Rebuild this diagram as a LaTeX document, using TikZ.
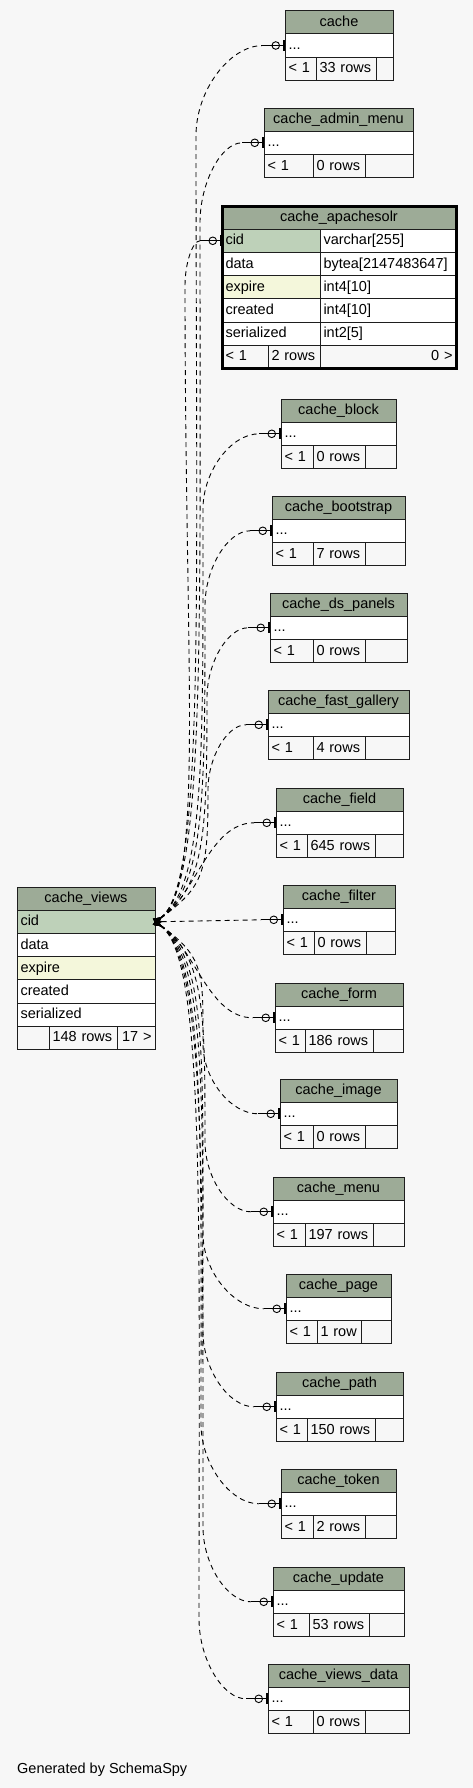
\documentclass[tikz,border=0pt]{standalone}
\usepackage{fontspec}
\setmainfont{Liberation Sans}
\usepackage{tikz}
\usetikzlibrary{arrows.meta,calc}
\definecolor{bgcol}{RGB}{247,247,247}
\definecolor{hdrcol}{RGB}{157,171,151}
\definecolor{keycol}{RGB}{190,209,185}
\definecolor{idxcol}{RGB}{244,247,219}
\definecolor{linecol}{RGB}{30,30,30}
\newcommand{\cellfont}{\fontsize{14.5pt}{17pt}\selectfont}
\tikzstyle{tbl} = [draw=linecol, line width=1pt, outer sep=0pt, inner xsep=3.5pt, inner ysep=0pt, minimum height=23.2pt, text height=10.5pt, text depth=2.2pt, font=\cellfont]
\tikzstyle{hdr} = [tbl, fill=hdrcol]
\tikzstyle{fld} = [tbl, fill=white, align=left]
\tikzstyle{keyfld} = [fld, fill=keycol]
\tikzstyle{idxfld} = [fld, fill=idxcol]
\tikzstyle{foot} = [tbl, fill=bgcol, align=left]
\tikzstyle{rel} = [line width=0.9pt, dash pattern=on 5pt off 4pt, {Triangle[reversed,length=8pt,width=7pt]}-]
\tikzstyle{relend} = [line width=0.9pt, -{Circle[open,length=8.5pt,width=8.5pt,sep=2.5pt]Bar[width=11pt,line width=2.5pt]}]
% small table: name, title, left, top, col1, col2, right, rows
\newcommand{\smalltable}[8]{%
  \pgfmathsetmacro{\tblw}{#7-#3-7}%
  \pgfmathsetmacro{\tblwlo}{#5-#3-7}%
  \pgfmathsetmacro{\tblwn}{#6-#5-7}%
  \pgfmathsetmacro{\tblwhi}{#7-#6}%
  \node[hdr, minimum width={#7pt-#3pt}, anchor=north west] (#1-h) at (#3,#4) {#2};
  \node[fld, text width=\tblw pt, anchor=north west] (#1) at (#1-h.south west) {...};
  \node[foot, text width=\tblwlo pt, anchor=north west] (#1-lo) at (#1.south west) {< 1};
  \node[foot, text width=\tblwn pt, anchor=north west] (#1-n) at (#1-lo.north east) {#8};
  \node[foot, minimum width=\tblwhi pt, anchor=north west] (#1-hi) at (#1-n.north east) {};
}
% relation from cache_views.cid: target, lane offset, turn, pull
\newcommand{\reledge}[4]{%
  \draw[rel] (views-cid.east) .. controls +(50,{-35*sign(#4)}) and +(0,#4) .. ($(#1.west)+(-#2,#3)$)
    .. controls +(0,{-0.5*#3}) and +({-0.5*(#2-22)},0) .. ($(#1.west)+(-22,0)$);
  \draw[relend] ($(#1.west)+(-22,0)$) -- (#1.west);
}

\begin{document}
\begin{tikzpicture}[x=1pt, y=-1pt]
\useasboundingbox (0,0) rectangle (473,1788);
\fill[bgcol] (0,0) rectangle (473,1788);

% Central table
\node[hdr, minimum width=138pt, anchor=north west] (views-h) at (17,887) {cache\_views};
\node[keyfld, text width=131pt, anchor=north west] (views-cid) at (views-h.south west) {cid};
\node[fld, text width=131pt, anchor=north west] (views-data) at (views-cid.south west) {data};
\node[idxfld, text width=131pt, anchor=north west] (views-exp) at (views-data.south west) {expire};
\node[fld, text width=131pt, anchor=north west] (views-cre) at (views-exp.south west) {created};
\node[fld, text width=131pt, anchor=north west] (views-ser) at (views-cre.south west) {serialized};
\node[foot, minimum width=32pt, anchor=north west] (views-lo) at (views-ser.south west) {};
\node[foot, text width=61pt, anchor=north west] (views-n) at (views-lo.north east) {148 rows};
\node[foot, text width=31pt, align=right, anchor=north west] (views-hi) at (views-n.north east) {17 >};

% Full table
\node[hdr, minimum width=234pt, anchor=north west] (solr-h) at (222,206) {cache\_apachesolr};
\node[keyfld, text width=91pt, anchor=north west] (solr) at (solr-h.south west) {cid};
\node[fld, text width=129pt, anchor=north west] (solr-cidt) at (solr.north east) {varchar[255]};
\node[fld, text width=91pt, anchor=north west] (solr-data) at (solr.south west) {data};
\node[fld, text width=129pt, anchor=north west] (solr-datat) at (solr-data.north east) {bytea[2147483647]};
\node[idxfld, text width=91pt, anchor=north west] (solr-exp) at (solr-data.south west) {expire};
\node[fld, text width=129pt, anchor=north west] (solr-expt) at (solr-exp.north east) {int4[10]};
\node[fld, text width=91pt, anchor=north west] (solr-cre) at (solr-exp.south west) {created};
\node[fld, text width=129pt, anchor=north west] (solr-cret) at (solr-cre.north east) {int4[10]};
\node[fld, text width=91pt, anchor=north west] (solr-ser) at (solr-cre.south west) {serialized};
\node[fld, text width=129pt, anchor=north west] (solr-sert) at (solr-ser.north east) {int2[5]};
\node[foot, text width=39pt, anchor=north west] (solr-lo) at (solr-ser.south west) {< 1};
\node[foot, text width=45pt, anchor=north west] (solr-n) at (solr-lo.north east) {2 rows};
\node[foot, text width=129pt, align=right, anchor=north west] (solr-hi) at (solr-n.north east) {0 >};
\draw[line width=3pt] (solr-h.north west) rectangle (solr-hi.south east);

% Other tables
\smalltable{cache}{cache}{285}{10.7}{316}{376}{393}{33 rows}
\smalltable{adminmenu}{cache\_admin\_menu}{264}{108}{313}{365}{413}{0 rows}
\smalltable{block}{cache\_block}{281}{399}{313}{365}{396}{0 rows}
\smalltable{bootstrap}{cache\_bootstrap}{272}{496}{313}{365}{405}{7 rows}
\smalltable{dspanels}{cache\_ds\_panels}{270}{593}{313}{365}{407}{0 rows}
\smalltable{gallery}{cache\_fast\_gallery}{268}{690}{313}{365}{409}{4 rows}
\smalltable{field}{cache\_field}{276}{788}{307}{375}{403}{645 rows}
\smalltable{filter}{cache\_filter}{283}{885}{314}{366}{395}{0 rows}
\smalltable{form}{cache\_form}{275}{983}{305}{373}{403}{186 rows}
\smalltable{image}{cache\_image}{280}{1079}{313}{365}{397}{0 rows}
\smalltable{menu}{cache\_menu}{273}{1177}{305}{373}{404}{197 rows}
\smalltable{page}{cache\_page}{286}{1274}{317}{361}{391}{1 row}
\smalltable{path}{cache\_path}{276}{1372}{307}{375}{403}{150 rows}
\smalltable{token}{cache\_token}{281}{1469}{313}{365}{396}{2 rows}
\smalltable{update}{cache\_update}{273}{1567}{309}{369}{404}{53 rows}
\smalltable{viewsdata}{cache\_views\_data}{268}{1664}{313}{365}{409}{0 rows}

% Relations
\reledge{cache}{89}{90}{470}
\reledge{adminmenu}{64}{80}{420}
\reledge{solr}{37}{45}{390}
\reledge{block}{78}{75}{250}
\reledge{bootstrap}{67}{75}{190}
\reledge{dspanels}{63}{70}{135}
\reledge{gallery}{60}{65}{80}
\draw[rel] (views-cid.east) .. controls +(40,-25) and +(-45,0) .. ($(field.west)+(-22,0)$);
\draw[relend] ($(field.west)+(-22,0)$) -- (field.west);
\draw[rel] (views-cid.east) -- ($(filter.west)+(-22,0)$);
\draw[relend] ($(filter.west)+(-22,0)$) -- (filter.west);
\draw[rel] (views-cid.east) .. controls +(40,25) and +(-45,0) .. ($(form.west)+(-22,0)$);
\draw[relend] ($(form.west)+(-22,0)$) -- (form.west);
\reledge{image}{77}{-70}{-70}
\reledge{menu}{68}{-70}{-130}
\reledge{page}{83}{-75}{-190}
\reledge{path}{73}{-75}{-250}
\reledge{token}{80}{-80}{-300}
\reledge{update}{70}{-75}{-360}
\reledge{viewsdata}{69}{-80}{-420}

\node[font=\cellfont, anchor=base west, inner sep=0pt] (credit) at (17,1773) {Generated by SchemaSpy};
\end{tikzpicture}
\end{document}
